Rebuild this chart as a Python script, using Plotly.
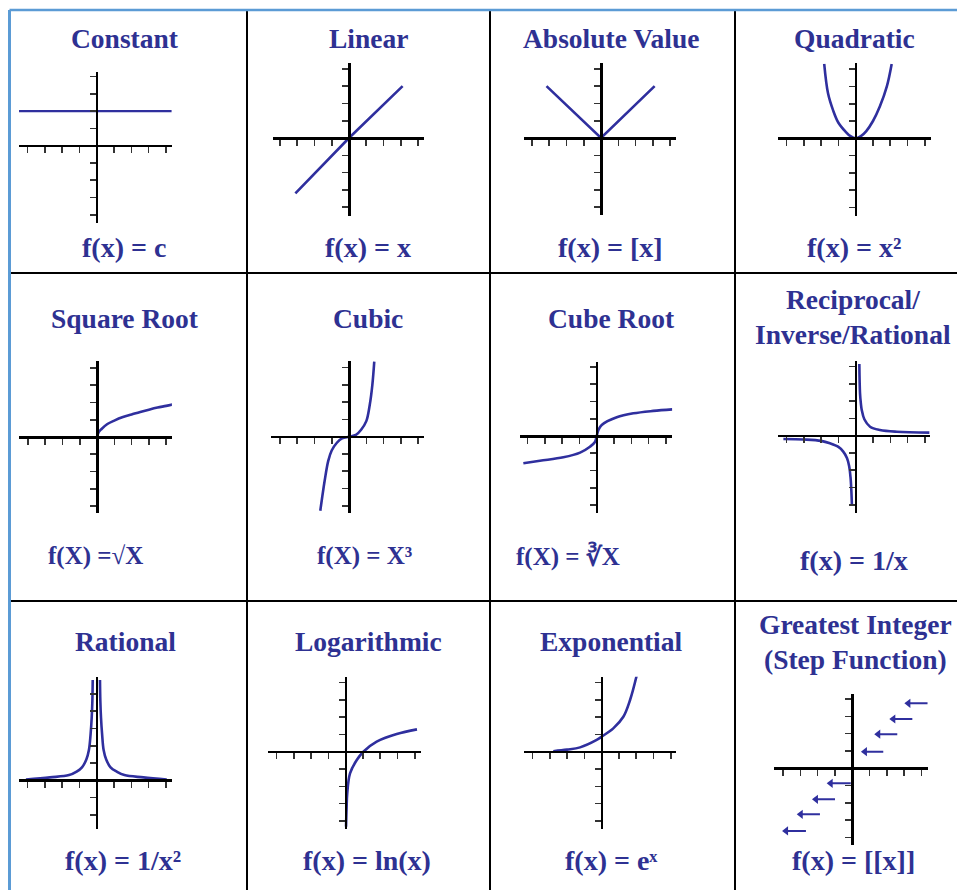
import plotly.graph_objects as go

W, H = 957, 890
S = 17.3  # pixels per unit in each small graph

TXT = "#2e3192"
CURVE = "#2f2f9e"

# ---------------- data ----------------
title_lines = [["Constant"], ["Linear"], ["Absolute Value"], ["Quadratic"],
               ["Square Root"], ["Cubic"], ["Cube Root"], ["Reciprocal/", "Inverse/Rational"],
               ["Rational"], ["Logarithmic"], ["Exponential"], ["Greatest Integer", "(Step Function)"]]
formulas = ["f(x) = c", "f(x) = x", "f(x) = [x]", "f(x) = x²",
            "f(X) =√X", "f(X) = X³", "f(X) = ∛X", "f(x) = 1/x",
            "f(x) = 1/x²", "f(x) = ln(x)", "f(x) = eˣ", "f(x) = [[x]]"]

const_x = [-4.5, 4.35]
const_y = [2.0, 2.0]

linear_x = [-3.1, 0.0, 3.1]
linear_y = [-3.2, 0.0, 3.0]

abs_x = [-3.15, 0.0, 3.1]
abs_y = [3.0, 0.0, 3.0]

quad_x = [-1.82, -1.6, -1.3, -1.0, -0.6, -0.3, 0.0, 0.3, 0.6, 1.0, 1.4, 1.8, 2.08]
quad_y = [4.3, 2.6, 1.6, 0.9, 0.4, 0.12, 0.0, 0.12, 0.4, 1.0, 1.85, 3.0, 4.3]

sqrt_x = [0.0, 0.1, 0.25, 0.6, 1.0, 1.5, 2.0, 2.5, 3.0, 3.5, 4.0, 4.45]
sqrt_y = [0.0, 0.28, 0.45, 0.75, 0.95, 1.15, 1.3, 1.45, 1.58, 1.7, 1.8, 1.9]

cubic_x = [-1.66, -1.55, -1.4, -1.2, -1.0, -0.7, -0.4, 0.0, 0.4, 0.7, 1.0, 1.2, 1.35, 1.46]
cubic_y = [-4.28, -3.5, -2.5, -1.4, -0.8, -0.35, -0.1, 0.0, 0.1, 0.4, 0.9, 1.85, 3.0, 4.34]

cbrt_x = [-4.24, -3.28, -1.93, -0.96, -0.39, -0.1, 0.0, 0.1, 0.29, 1.16, 2.12, 3.27, 4.37]
cbrt_y = [-1.58, -1.43, -1.23, -0.96, -0.62, -0.35, 0.0, 0.35, 0.64, 1.08, 1.31, 1.45, 1.54]

recip_pos_x = [0.21, 0.25, 0.3, 0.35, 0.5, 0.83, 1.4, 2.37, 4.26]
recip_pos_y = [4.14, 2.45, 1.85, 1.49, 0.95, 0.52, 0.33, 0.23, 0.18]
recip_neg_x = [-4.18, -3.0, -2.0, -1.49, -1.0, -0.72, -0.5, -0.38, -0.3, -0.25, -0.22]
recip_neg_y = [-0.19, -0.22, -0.3, -0.44, -0.65, -0.92, -1.3, -1.75, -2.4, -3.2, -4.0]

rat_left_x = [-4.09, -2.7, -1.6, -1.16, -0.85, -0.6, -0.45, -0.35, -0.29, -0.25, -0.23]
rat_left_y = [0.05, 0.17, 0.3, 0.5, 0.75, 1.2, 1.75, 2.7, 3.6, 4.6, 5.8]
rat_right_x = [0.19, 0.21, 0.25, 0.31, 0.4, 0.55, 0.8, 1.16, 1.6, 2.7, 4.05]
rat_right_y = [5.8, 4.6, 3.6, 2.7, 1.75, 1.2, 0.75, 0.5, 0.3, 0.17, 0.05]

log_x = [0.02, 0.05, 0.09, 0.25, 0.64, 1.02, 1.79, 2.95, 4.12]
log_y = [-4.33, -3.3, -2.4, -1.25, -0.48, 0.0, 0.58, 1.02, 1.29]

exp_x = [-2.8, -2.0, -1.25, -0.29, 0.0, 0.67, 1.25, 1.64, 2.02]
exp_y = [0.03, 0.12, 0.25, 0.68, 0.87, 1.35, 2.02, 2.99, 4.39]

step_left = [-3.83, -2.98, -2.1, -1.25, 0.73, 1.5, 2.37, 3.24]
step_right = [-2.68, -1.87, -1.0, -0.09, 1.79, 2.6, 3.47, 4.36]
step_level = [-3.62, -2.66, -1.79, -0.87, 0.96, 1.97, 2.85, 3.76]

tick_vals = [-5, -4, -3, -2, -1, 1, 2, 3, 4, 5]

# ---------------- panel geometry (pixels) ----------------
panels = [
    dict(cx=96.7, cy=145.7, xr=(-4.49, 4.33), yr=(-4.45, 4.28)),
    dict(cx=349.0, cy=138.0, xr=(-4.4, 4.35), yr=(-4.5, 4.33)),
    dict(cx=601.0, cy=138.0, xr=(-4.45, 4.35), yr=(-4.47, 4.33)),
    dict(cx=855.7, cy=138.3, xr=(-4.47, 4.33), yr=(-4.47, 4.33)),
    dict(cx=97.0, cy=437.0, xr=(-4.49, 4.33), yr=(-4.4, 4.4)),
    dict(cx=349.0, cy=436.7, xr=(-4.49, 4.32), yr=(-4.4, 4.4)),
    dict(cx=596.7, cy=436.0, xr=(-4.43, 4.37), yr=(-4.47, 4.3)),
    dict(cx=855.7, cy=435.7, xr=(-4.49, 4.29), yr=(-4.49, 4.34)),
    dict(cx=96.7, cy=780.3, xr=(-4.49, 4.33), yr=(-2.83, 5.95)),
    dict(cx=345.7, cy=751.7, xr=(-4.47, 4.35), yr=(-4.45, 4.33)),
    dict(cx=601.7, cy=751.7, xr=(-4.47, 4.29), yr=(-4.45, 4.33)),
    dict(cx=852.3, cy=768.3, xr=(-4.51, 4.36), yr=(-4.43, 4.28)),
]

# centre of each title line (pixels)
title_pos = [[(124.5, 38)], [(368.5, 38)], [(611, 38)], [(854, 38)],
             [(124.5, 318)], [(368, 318)], [(611, 318)], [(853, 299), (853, 334)],
             [(125, 641)], [(368, 641)], [(611, 641)], [(855, 624), (855, 659)]]
formula_pos = [(124, 248), (367.5, 248), (610, 248), (854, 248),
               (95, 556), (364, 556), (568, 556), (854, 560),
               (123, 860), (367, 860), (611, 860), (853, 860)]
title_size = 27.5
formula_sizes = [28, 28, 28, 28, 25, 25, 25, 28, 28, 28, 28, 28]

fig = go.Figure()
layout_axes = {}

for i, p in enumerate(panels):
    n = i + 1
    xs = "" if n == 1 else str(n)
    x0 = (p["cx"] + p["xr"][0] * S) / W
    x1 = (p["cx"] + p["xr"][1] * S) / W
    y0 = 1 - (p["cy"] - p["yr"][0] * S) / H
    y1 = 1 - (p["cy"] - p["yr"][1] * S) / H
    common = dict(showgrid=False, zeroline=False, showticklabels=False,
                  showline=True, linecolor="black", linewidth=2.6,
                  ticks="outside", ticklen=6, tickwidth=1.6, tickcolor="#333333",
                  tickmode="array", tickvals=tick_vals, fixedrange=True)
    layout_axes["xaxis" + xs] = dict(domain=[x0, x1], range=list(p["xr"]),
                                     anchor="free", position=1 - p["cy"] / H,
                                     **common)
    layout_axes["yaxis" + xs] = dict(domain=[y0, y1], range=list(p["yr"]),
                                     anchor="free", position=p["cx"] / W,
                                     **common)


def add_curve(n, xv, yv, shape="spline", width=2.6):
    xs = "" if n == 1 else str(n)
    fig.add_trace(go.Scatter(x=xv, y=yv, mode="lines",
                             line=dict(color=CURVE, width=width, shape=shape),
                             xaxis="x" + xs, yaxis="y" + xs,
                             hoverinfo="skip", showlegend=False))


add_curve(1, const_x, const_y, shape="linear", width=2.2)
add_curve(2, linear_x, linear_y, shape="linear")
add_curve(3, abs_x, abs_y, shape="linear")
add_curve(4, quad_x, quad_y)
add_curve(5, sqrt_x, sqrt_y)
add_curve(6, cubic_x, cubic_y)
add_curve(7, cbrt_x, cbrt_y)
add_curve(8, recip_pos_x, recip_pos_y)
add_curve(8, recip_neg_x, recip_neg_y)
add_curve(9, rat_left_x, rat_left_y)
add_curve(9, rat_right_x, rat_right_y)
add_curve(10, log_x, log_y)
add_curve(11, exp_x, exp_y)

# step function: segments with left-pointing arrowheads
seg_x, seg_y = [], []
for a, b, lv in zip(step_left, step_right, step_level):
    seg_x += [a, b, None]
    seg_y += [lv, lv, None]
fig.add_trace(go.Scatter(x=seg_x, y=seg_y, mode="lines",
                         line=dict(color=CURVE, width=2),
                         xaxis="x12", yaxis="y12", hoverinfo="skip", showlegend=False))
fig.add_trace(go.Scatter(x=step_left, y=step_level, mode="markers",
                         marker=dict(symbol="triangle-left", size=8, color=CURVE),
                         xaxis="x12", yaxis="y12", hoverinfo="skip", showlegend=False))

# ---------------- text ----------------
annotations = []
for lines, poss in zip(title_lines, title_pos):
    for t, (tx, ty) in zip(lines, poss):
        annotations.append(dict(x=tx / W, y=1 - ty / H, xref="paper", yref="paper",
                                text="<b>" + t + "</b>", showarrow=False,
                                xanchor="center", yanchor="middle",
                                font=dict(family="Liberation Serif", size=title_size, color=TXT)))
for (tx, ty), t, fs in zip(formula_pos, formulas, formula_sizes):
    annotations.append(dict(x=tx / W, y=1 - ty / H, xref="paper", yref="paper",
                            text="<b>" + t + "</b>", showarrow=False,
                            xanchor="center", yanchor="middle",
                            font=dict(family="Liberation Serif", size=fs, color=TXT)))

# ---------------- grid lines ----------------
shapes = []
for vx in [247, 490, 735]:
    shapes.append(dict(type="line", xref="paper", yref="paper",
                       x0=vx / W, x1=vx / W, y0=1 - 10 / H, y1=0,
                       line=dict(color="black", width=2)))
for hy in [273, 601]:
    shapes.append(dict(type="line", xref="paper", yref="paper",
                       x0=10 / W, x1=1, y0=1 - hy / H, y1=1 - hy / H,
                       line=dict(color="black", width=2)))
shapes.append(dict(type="line", xref="paper", yref="paper",
                   x0=9.5 / W, x1=1, y0=1 - 10 / H, y1=1 - 10 / H,
                   line=dict(color="#5b9bd5", width=2.5)))
shapes.append(dict(type="line", xref="paper", yref="paper",
                   x0=9.5 / W, x1=9.5 / W, y0=1 - 10 / H, y1=0,
                   line=dict(color="#5b9bd5", width=3)))

fig.update_layout(width=W, height=H, margin=dict(l=0, r=0, t=0, b=0),
                  paper_bgcolor="white", plot_bgcolor="rgba(0,0,0,0)",
                  showlegend=False, annotations=annotations, shapes=shapes,
                  **layout_axes)

fig.write_html("out.html",
               config={"displayModeBar": False, "staticPlot": True},
               post_script="document.body.style.margin='0px';"
                           "document.documentElement.style.margin='0px';"
                           "document.body.style.overflow='hidden';")
